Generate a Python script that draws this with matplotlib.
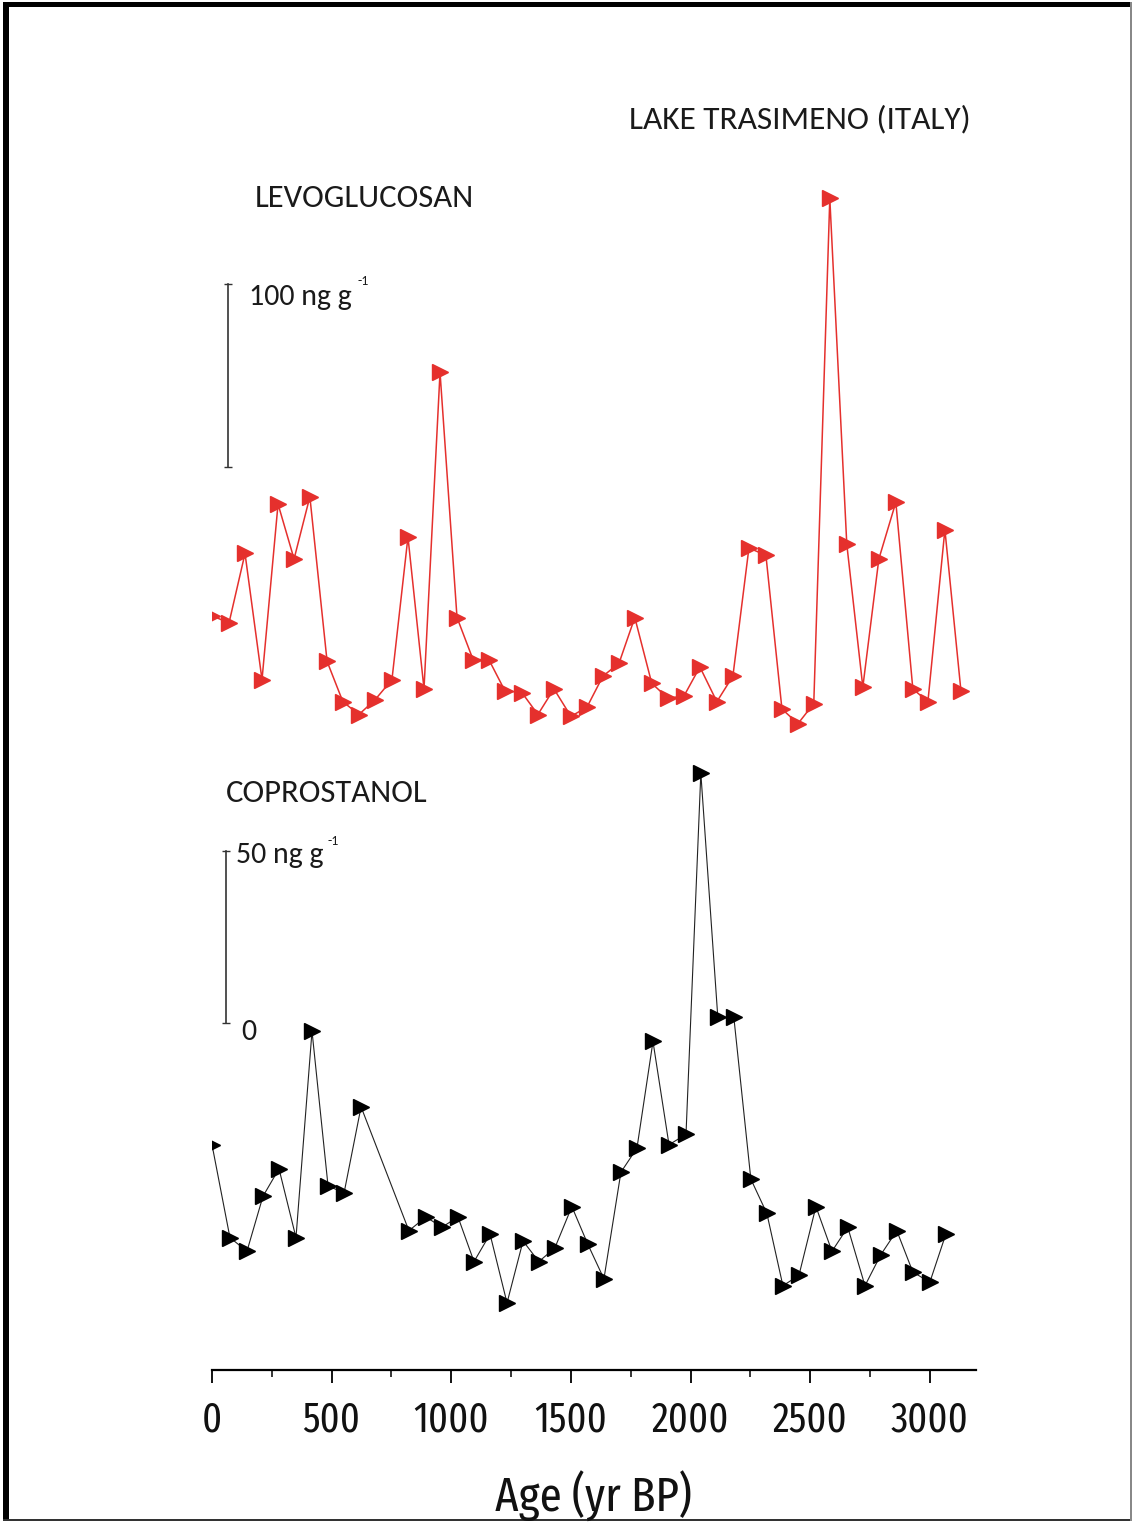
import matplotlib
matplotlib.use("Agg")
import matplotlib.pyplot as plt
from matplotlib.patches import Rectangle
from matplotlib.ticker import MultipleLocator

# Lake Trasimeno biomarkers (ng/g, offsets arbitrary)
lev_age = [0, 71, 138, 209, 276, 343, 409, 481, 547, 614, 681, 752, 819, 886, 953,
           1024, 1091, 1157, 1224, 1295, 1362, 1429, 1500, 1567, 1634, 1701, 1767,
           1838, 1905, 1972, 2039, 2110, 2177, 2244, 2315, 2382, 2449, 2515, 2582,
           2653, 2720, 2787, 2858, 2929, 2992, 3063, 3130]
lev_val = [69, 65, 103, 34, 130, 100, 134, 44, 22, 15, 23, 34, 112, 29, 202,
           68, 45, 45, 28, 27, 15, 29, 14, 19, 36, 43, 68, 32, 24, 25, 41, 22, 36,
           106, 102, 18, 10, 21, 297, 108, 30, 100, 131, 29, 22, 116, 28]

cop_age = [0, 75, 146, 213, 280, 351, 418, 485, 552, 623, 823, 894, 961, 1028,
           1095, 1162, 1233, 1300, 1366, 1433, 1504, 1571, 1638, 1709, 1776, 1843,
           1910, 1981, 2043, 2114, 2181, 2252, 2319, 2386, 2453, 2524, 2591, 2657,
           2729, 2795, 2862, 2929, 3000, 3067]
cop_val = [51, 24, 20, 36, 44, 24, 84, 39, 37, 62, 26, 30, 27, 30, 17, 25, 5, 23,
           17, 21, 33, 22, 12, 43, 50, 81, 51, 54, 159, 88, 88, 41, 31, 10, 13, 33,
           20, 27, 10, 19, 26, 14, 11, 25]

xticks = [0, 500, 1000, 1500, 2000, 2500, 3000]

W, H = 1132, 1522
RED = "#e5302d"
LABEL_FONT = "Carlito"
TICK_FONT = "Fira Sans Extra Condensed"
INK = "#1a1a1a"


def fx(x):
    return x / W


def fy(y):
    return 1 - y / H


fig = plt.figure(figsize=(W / 100, H / 100), dpi=100)
rect = [fx(212), fy(1370), fx(976) - fx(212), fy(100) - fy(1370)]

# coprostanol panel carries the age axis
ax = fig.add_axes(rect)
ax.set_xlim(0, 3193)
ax.set_ylim(-14.5, 354.7)
ax.plot(cop_age, cop_val, color="#222222", lw=0.8, marker=">", ms=11.5,
        mfc="black", mec="black")
# 50 ng/g scale bar
ax.plot([58, 58], [86.3, 136.3], color="#333333", lw=1.2, marker="_", ms=6)

for s in ["top", "left", "right"]:
    ax.spines[s].set_visible(False)
ax.spines["bottom"].set_linewidth(1.6)
ax.set_yticks([])
ax.set_xticks(xticks)
ax.xaxis.set_minor_locator(MultipleLocator(250))
ax.tick_params(axis="x", which="major", length=9, width=1.3, pad=12,
               labelsize=30, labelcolor="#111111")
ax.tick_params(axis="x", which="minor", length=5, width=1.1)
for lab in ax.get_xticklabels():
    lab.set_fontfamily(TICK_FONT)
ax.patch.set_alpha(0)

# levoglucosan panel on the same age scale
ax2 = fig.add_axes(rect, sharex=ax)
ax2.set_ylim(-343.2, 350.8)
ax2.plot(lev_age, lev_val, color=RED, lw=1.1, marker=">", ms=11.5,
         mfc=RED, mec=RED)
ax2.plot([67, 67], [150, 250], color="#333333", lw=1.2, marker="_", ms=6)
ax2.axis("off")
ax2.patch.set_alpha(0)

# labels
fig.text(fx(629), fy(128), "LAKE TRASIMENO (ITALY)", fontfamily=LABEL_FONT,
         fontsize=24, va="baseline", color=INK)
fig.text(fx(255), fy(207), "LEVOGLUCOSAN", fontfamily=LABEL_FONT,
         fontsize=23.5, va="baseline", color=INK)
fig.text(fx(226), fy(802), "COPROSTANOL", fontfamily=LABEL_FONT,
         fontsize=23.5, va="baseline", color=INK)

fig.text(fx(249), fy(305), "100 ng g", fontfamily=LABEL_FONT, fontsize=21.5,
         va="baseline", color=INK)
fig.text(fx(357), fy(285), "-1", fontfamily=LABEL_FONT, fontsize=10,
         va="baseline", color=INK)
fig.text(fx(236), fy(863), "50 ng g", fontfamily=LABEL_FONT, fontsize=21.5,
         va="baseline", color=INK)
fig.text(fx(328), fy(845), "-1", fontfamily=LABEL_FONT, fontsize=10,
         va="baseline", color=INK)
fig.text(fx(241), fy(1040), "0", fontfamily=LABEL_FONT, fontsize=21.5,
         va="baseline", color=INK)

fig.text(fx(593), fy(1512), "Age (yr BP)", fontfamily=TICK_FONT, fontsize=35,
         ha="center", va="baseline", color="#111111")

# picture frame
fig.add_artist(Rectangle((fx(3), fy(1521)), fx(6), fy(2) - fy(1521),
                         transform=fig.transFigure, color="black", lw=0))
fig.add_artist(Rectangle((fx(3), fy(7)), fx(1129), fy(2) - fy(7),
                         transform=fig.transFigure, color="black", lw=0))
fig.add_artist(Rectangle((fx(3), fy(1521)), fx(1128), fy(1519) - fy(1521),
                         transform=fig.transFigure, color="#333333", lw=0))
fig.add_artist(Rectangle((fx(1130), fy(1521)), fx(1.5), fy(2) - fy(1521),
                         transform=fig.transFigure, color="#888888", lw=0))

fig.savefig("out.png", dpi=100)
